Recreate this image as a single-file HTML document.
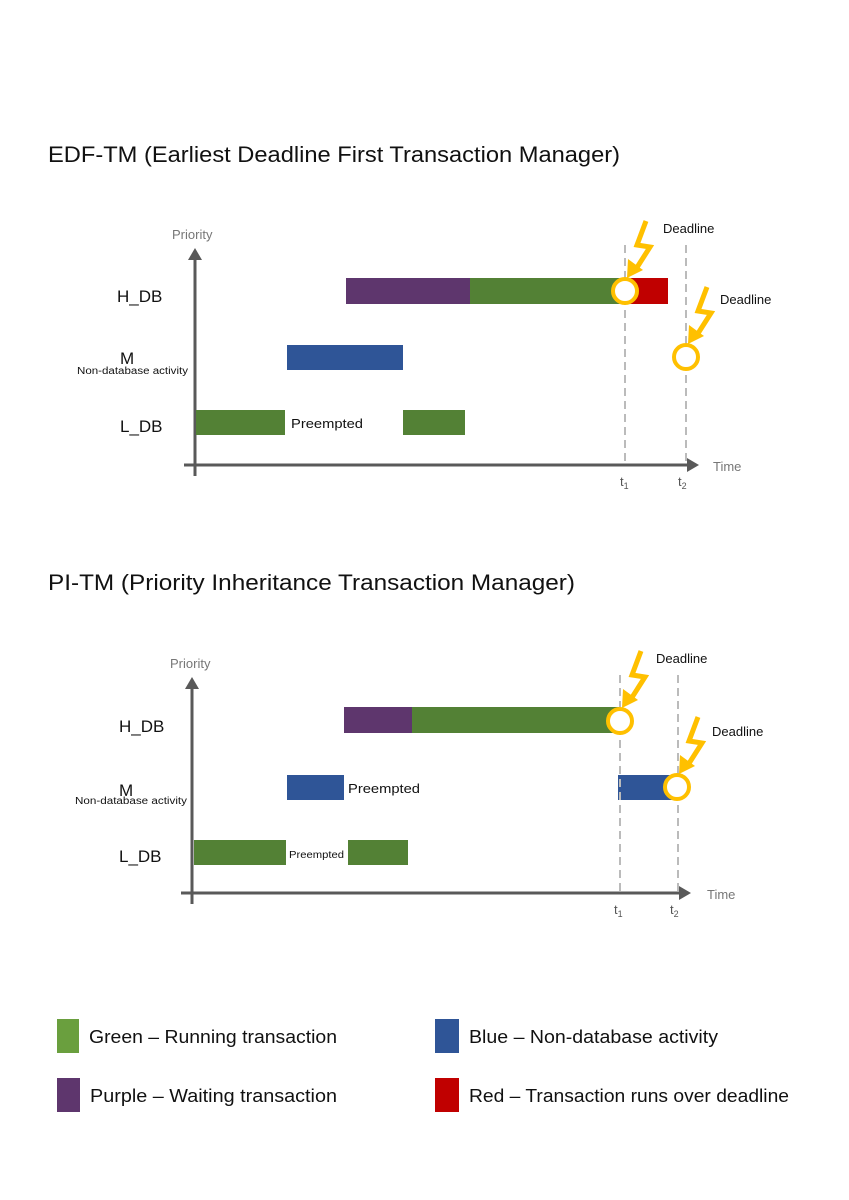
<!DOCTYPE html>
<html><head><meta charset="utf-8"><style>
html,body{margin:0;padding:0;background:#fff}
svg{display:block}
text{font-family:"Liberation Sans","DejaVu Sans",sans-serif}
</style></head><body>
<svg width="849" height="1200" viewBox="0 0 849 1200">
<defs>
<g id="bolt">
<polyline points="21,-70 12,-46 25,-44 11,-22" fill="none" stroke="#FFC000" stroke-width="5" stroke-linejoin="miter"/>
<polygon points="2,-13 3,-32 18,-21" fill="#FFC000"/>
</g>
</defs>

<!-- Chart 1 -->
<text x="48" y="162" font-size="22" fill="#111" textLength="572" lengthAdjust="spacingAndGlyphs">EDF-TM  (Earliest Deadline First Transaction Manager)</text>
<text x="172" y="239" font-size="13" fill="#777">Priority</text>
<line x1="195" y1="255" x2="195" y2="476" stroke="#595959" stroke-width="3"/>
<polygon points="195,248 188,260 202,260" fill="#595959"/>
<line x1="184" y1="465" x2="690" y2="465" stroke="#595959" stroke-width="3"/>
<polygon points="699,465 687,458 687,472" fill="#595959"/>
<text x="713" y="471" font-size="13" fill="#777">Time</text>
<text x="117" y="302" font-size="17" fill="#111">H_DB</text>
<text x="120" y="364" font-size="17" fill="#111">M</text>
<text x="77" y="374" font-size="10" fill="#111" textLength="111" lengthAdjust="spacingAndGlyphs">Non-database activity</text>
<text x="120" y="432" font-size="17" fill="#111">L_DB</text>
<rect x="346" y="278" width="124" height="26" fill="#5E366D"/>
<rect x="470" y="278" width="155" height="26" fill="#538135"/>
<rect x="625" y="278" width="43" height="26" fill="#C00000"/>
<rect x="287" y="345" width="116" height="25" fill="#2F5597"/>
<rect x="196" y="410" width="89" height="25" fill="#538135"/>
<rect x="403" y="410" width="62" height="25" fill="#538135"/>
<text x="291" y="428" font-size="13" fill="#111" textLength="72" lengthAdjust="spacingAndGlyphs">Preempted</text>
<line x1="625" y1="245" x2="625" y2="465" stroke="#bbb" stroke-width="2" stroke-dasharray="8,5"/>
<line x1="686" y1="245" x2="686" y2="465" stroke="#bbb" stroke-width="2" stroke-dasharray="8,5"/>
<circle cx="625" cy="291" r="12" fill="#fff" stroke="#FFC000" stroke-width="4"/>
<circle cx="686" cy="357" r="12" fill="#fff" stroke="#FFC000" stroke-width="4"/>
<use href="#bolt" x="625" y="291"/>
<use href="#bolt" x="686" y="357"/>
<text x="663" y="233" font-size="13" fill="#111">Deadline</text>
<text x="720" y="304" font-size="13" fill="#111">Deadline</text>
<text x="620" y="486" font-size="13" fill="#555">t<tspan font-size="9" dy="3">1</tspan></text>
<text x="678" y="486" font-size="13" fill="#555">t<tspan font-size="9" dy="3">2</tspan></text>

<!-- Chart 2 -->
<text x="48" y="590" font-size="22" fill="#111" textLength="527" lengthAdjust="spacingAndGlyphs">PI-TM  (Priority Inheritance Transaction Manager)</text>
<text x="170" y="668" font-size="13" fill="#777">Priority</text>
<line x1="192" y1="684" x2="192" y2="904" stroke="#595959" stroke-width="3"/>
<polygon points="192,677 185,689 199,689" fill="#595959"/>
<line x1="181" y1="893" x2="682" y2="893" stroke="#595959" stroke-width="3"/>
<polygon points="691,893 679,886 679,900" fill="#595959"/>
<text x="707" y="899" font-size="13" fill="#777">Time</text>
<text x="119" y="732" font-size="17" fill="#111">H_DB</text>
<text x="119" y="796" font-size="17" fill="#111">M</text>
<text x="75" y="804" font-size="10" fill="#111" textLength="112" lengthAdjust="spacingAndGlyphs">Non-database activity</text>
<text x="119" y="862" font-size="17" fill="#111">L_DB</text>
<rect x="344" y="707" width="68" height="26" fill="#5E366D"/>
<rect x="412" y="707" width="208" height="26" fill="#538135"/>
<rect x="287" y="775" width="57" height="25" fill="#2F5597"/>
<rect x="618" y="775" width="59" height="25" fill="#2F5597"/>
<rect x="194" y="840" width="92" height="25" fill="#538135"/>
<rect x="348" y="840" width="60" height="25" fill="#538135"/>
<text x="348" y="793" font-size="13" fill="#111" textLength="72" lengthAdjust="spacingAndGlyphs">Preempted</text>
<text x="289" y="858" font-size="10" fill="#111" textLength="55" lengthAdjust="spacingAndGlyphs">Preempted</text>
<line x1="620" y1="675" x2="620" y2="893" stroke="#bbb" stroke-width="2" stroke-dasharray="8,5"/>
<line x1="678" y1="675" x2="678" y2="893" stroke="#bbb" stroke-width="2" stroke-dasharray="8,5"/>
<circle cx="620" cy="721" r="12" fill="#fff" stroke="#FFC000" stroke-width="4"/>
<circle cx="677" cy="787" r="12" fill="#fff" stroke="#FFC000" stroke-width="4"/>
<use href="#bolt" x="620" y="721"/>
<use href="#bolt" x="677" y="787"/>
<text x="656" y="663" font-size="13" fill="#111">Deadline</text>
<text x="712" y="736" font-size="13" fill="#111">Deadline</text>
<text x="614" y="914" font-size="13" fill="#555">t<tspan font-size="9" dy="3">1</tspan></text>
<text x="670" y="914" font-size="13" fill="#555">t<tspan font-size="9" dy="3">2</tspan></text>

<!-- Legend -->
<rect x="57" y="1019" width="22" height="34" fill="#6A9F3E"/>
<text x="89" y="1043" font-size="18" fill="#111" textLength="248" lengthAdjust="spacingAndGlyphs">Green – Running transaction</text>
<rect x="57" y="1078" width="23" height="34" fill="#5E366D"/>
<text x="90" y="1102" font-size="18" fill="#111" textLength="247" lengthAdjust="spacingAndGlyphs">Purple – Waiting transaction</text>
<rect x="435" y="1019" width="24" height="34" fill="#2F5597"/>
<text x="469" y="1043" font-size="18" fill="#111" textLength="249" lengthAdjust="spacingAndGlyphs">Blue – Non-database activity</text>
<rect x="435" y="1078" width="24" height="34" fill="#C00000"/>
<text x="469" y="1102" font-size="18" fill="#111" textLength="320" lengthAdjust="spacingAndGlyphs">Red – Transaction runs over deadline</text>
</svg>
</body></html>
